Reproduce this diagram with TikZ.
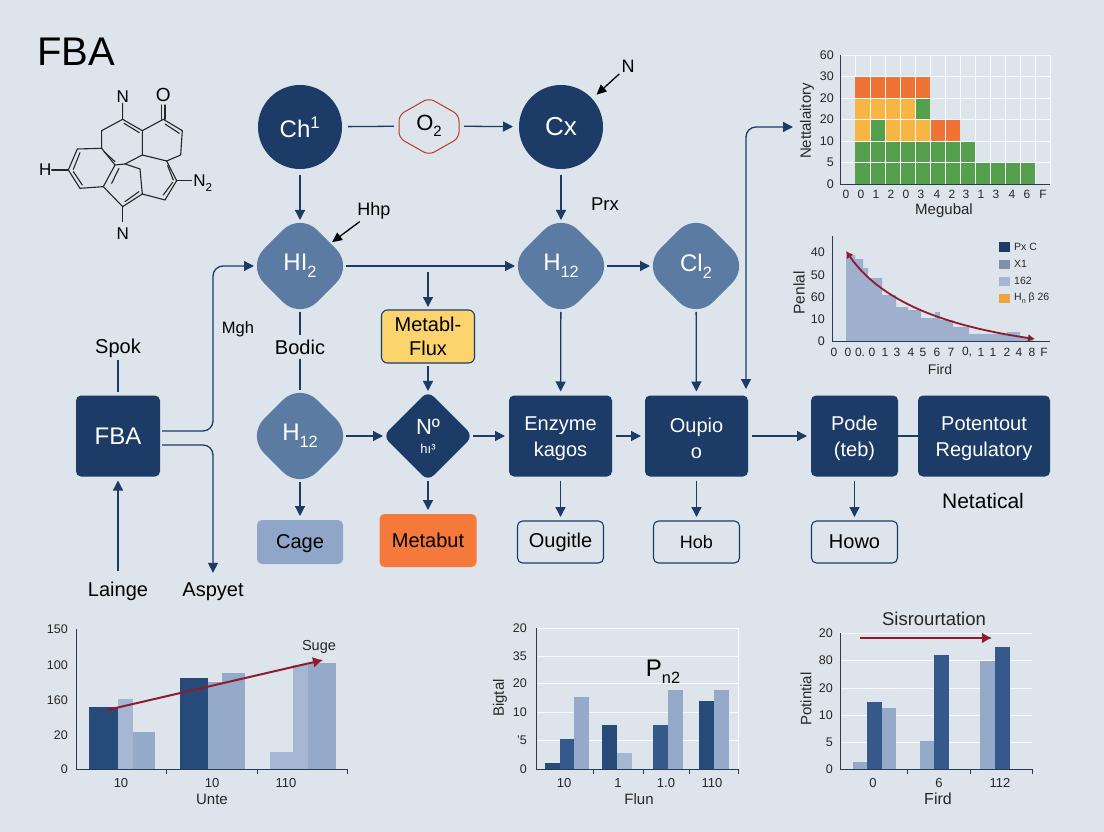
\documentclass[tikz,border=0pt]{standalone}
\usepackage{fontspec}
\setmainfont{Liberation Sans}
\usetikzlibrary{arrows.meta,shapes.geometric}
\definecolor{bgcol}{HTML}{DDE4EC}
\definecolor{navy}{HTML}{1C3B66}
\definecolor{steel}{HTML}{5B7BA3}
\definecolor{cagecol}{HTML}{8FA6C8}
\definecolor{fluxcol}{HTML}{FBD46E}
\definecolor{butcol}{HTML}{F4793B}
\definecolor{redline}{HTML}{8E1B2E}
\definecolor{hexred}{HTML}{C0392B}
\definecolor{barnavy}{HTML}{274B78}
\definecolor{barblue}{HTML}{34598A}
\definecolor{barmid}{HTML}{95A9C8}
\definecolor{barpale}{HTML}{A5B7D2}
\definecolor{hgreen}{HTML}{55A04C}
\definecolor{hyellow}{HTML}{F9B544}
\definecolor{horange}{HTML}{EE7334}
\definecolor{legorange}{HTML}{F0A23C}
\definecolor{axiscol}{HTML}{2A3A50}
\newcommand{\low}[1]{\raisebox{-0.28em}{\scalebox{0.68}{#1}}}
\newcommand{\fsz}[1]{\fontsize{#1}{#1}\selectfont}
\newcommand{\topstrut}{\rule{0pt}{20pt}}
\tikzset{
    flow/.style={draw=navy,line width=1.3pt,-{Triangle[length=10pt,width=10pt]}},
    link/.style={draw=navy,line width=1.3pt},
    callout/.style={draw=black,line width=1.3pt,-{Triangle[length=10pt,width=9pt]}},
    redarrow/.style={draw=redline,line width=2pt,-{Latex[length=10pt,width=11pt]}},
    roundnode/.style={circle,fill=navy,text=white,minimum size=84pt,inner sep=0pt,outer sep=6pt,font=\fsz{24}},
    softdiamond/.style={diamond,aspect=1,fill=steel,text=white,minimum width=102pt,minimum height=102pt,inner sep=0pt,outer sep=-5pt,rounded corners=24pt,font=\fsz{24}},
    darkbox/.style={rectangle,rounded corners=5pt,fill=navy,text=white,minimum height=81pt,inner sep=0pt,outer sep=4pt,align=center,font=\fontsize{20}{26}\selectfont},
    outbox/.style={rectangle,rounded corners=5pt,draw=navy,line width=1.1pt,minimum width=86pt,minimum height=42pt,inner sep=0pt,outer sep=4pt,font=\fsz{20}},
    plainlab/.style={inner sep=2pt,font=\fsz{20}},
    ticklab/.style={inner sep=0pt,font=\fsz{12.5},text=black!85},
    axislab/.style={inner sep=0pt,font=\fsz{15},text=black!85},
    axisline/.style={draw=axiscol,line width=0.9pt},
    gridline/.style={draw=white!80!bgcol,line width=0.8pt},
    bond/.style={draw=black!85,line width=1.1pt,line cap=round},
    mollab/.style={inner sep=0pt,font=\fsz{17}}
}
\begin{document}
\begin{tikzpicture}[x=1pt,y=-1pt]
    \useasboundingbox (0,0) rectangle (1104,832);
    \fill[bgcol] (0,0) rectangle (1104,832);
    \node[inner sep=0pt,font=\fsz{40}] (title) at (76,52) {FBA};

    \begin{scope}[shift={(20,20)},scale=0.3333]
        \draw[bond] (308,250) -- (308,298) -- (245,332) -- (245,385) -- (172,387) -- (145,450) -- (180,505) -- (250,500) -- (285,435) -- (245,385);
        \draw[bond] (308,298) -- (367,332) -- (430,298) -- (487,332) -- (482,405) -- (440,423) -- (367,405) -- (367,332);
        \draw[bond] (95,450) -- (145,450);
        \draw[bond] (425,255) -- (425,298) (435,255) -- (435,298);
        \draw[bond] (367,405) -- (315,432) -- (285,435);
        \draw[bond] (250,500) -- (308,560) -- (367,522) -- (360,447) -- (315,432);
        \draw[bond] (440,423) -- (470,482) -- (435,540) -- (367,522);
        \draw[bond] (470,482) -- (515,482);
        \draw[bond] (308,560) -- (308,605);
        \draw[bond] (312,310) -- (358,338) (435,312) -- (478,340);
        \draw[bond] (180,398) -- (160,448) (160,455) -- (187,495) (252,395) -- (285,425);
        \draw[bond] (275,490) -- (297,445) (315,545) -- (357,515) (443,437) -- (460,480) (458,487) -- (430,525);
        \node[mollab] (molna) at (308,230) {N};
        \node[mollab,font=\fsz{19}] (molo) at (430,226) {O};
        \node[mollab] (molh) at (76,450) {H};
        \node[mollab] (molnb) at (548,490) {N\low{2}};
        \node[mollab] (molnc) at (308,640) {N};
    \end{scope}

    \node[roundnode] (ch) at (300,127) {Ch\textsuperscript{1}};
    \node[roundnode,font=\fsz{26}] (cx) at (561,127) {Cx};
    \node[minimum width=60pt,minimum height=56pt,inner sep=0pt,outer sep=5pt,font=\fsz{22}] (otwo) at (429,126) {O\low{2}};
    \draw[hexred,line width=1pt,rounded corners=6pt] (429,98) -- (459,115) -- (459,138) -- (429,155) -- (399,138) -- (399,115) -- cycle;
    \node[softdiamond] (hone) at (300,266) {HI\low{2}};
    \node[softdiamond] (htwo) at (561,266) {H\low{12}};
    \node[softdiamond] (cltwo) at (696,266) {Cl\low{2}};
    \node[softdiamond] (hmid) at (300,436) {H\low{12}};
    \node[softdiamond,fill=navy,rounded corners=8pt,minimum width=90pt,minimum height=90pt,outer sep=0pt,align=center,font=\fontsize{22}{18}\selectfont] (nodia) at (428,436) {Nº\\[1pt]{\fsz{13}hı³}};
    \node[darkbox,minimum width=84pt,font=\fsz{24}] (fba) at (118,436) {FBA};
    \node[darkbox,minimum width=103pt] (enz) at (560.5,436) {\topstrut Enzyme\\kagos};
    \node[darkbox,minimum width=103pt] (oupio) at (696.5,436) {\topstrut Oupio\\o};
    \node[darkbox,minimum width=87pt] (pode) at (854.5,436) {\topstrut Pode\\(teb)};
    \node[darkbox,minimum width=132pt] (pot) at (984,436) {\topstrut Potentout\\Regulatory};
    \node[rectangle,rounded corners=6pt,draw=navy,line width=1.1pt,fill=fluxcol,minimum width=93pt,minimum height=53pt,inner sep=0pt,outer sep=3pt,align=center,font=\fontsize{20}{24}\selectfont] (flux) at (428,336.5) {Metabl-\\Flux};
    \node[rectangle,rounded corners=5pt,fill=cagecol,minimum width=86pt,minimum height=44pt,inner sep=0pt,outer sep=4pt,font=\fsz{20}] (cage) at (300,542) {\rule{0pt}{17pt}Cage};
    \node[rectangle,rounded corners=5pt,fill=butcol,minimum width=97pt,minimum height=53pt,inner sep=0pt,outer sep=4pt,font=\fsz{20}] (butbox) at (428,540.5) {Metabut};
    \node[outbox] (ougitle) at (560.5,542) {Ougitle};
    \node[outbox,font=\fsz{18}] (hob) at (696.5,542) {Hob};
    \node[outbox] (howo) at (854.5,542) {Howo};

    \node[plainlab] (spok) at (118,348) {Spok};
    \node[plainlab] (lainge) at (118,591) {Lainge};
    \node[plainlab] (aspyet) at (213,592) {Aspyet};
    \node[plainlab,font=\fsz{16.5}] (mgh) at (238,329) {Mgh};
    \node[plainlab,inner sep=4pt] (bodic) at (300,347) {Bodic};
    \node[plainlab,font=\fsz{18}] (hhp) at (374,211) {Hhp};
    \node[plainlab,font=\fsz{18.5}] (prx) at (605,204) {Prx};
    \node[plainlab,font=\fsz{18}] (nlab) at (628,66) {N};
    \node[plainlab,font=\fsz{21}] (netat) at (983,501) {Netatical};

    \coordinate (tap) at (428,272);
    \coordinate (fbaup) at (162,431);
    \coordinate (fbadown) at (162,445);
    \coordinate (oupiotop) at (746,389);
    \coordinate (chartin) at (793,127);

    \draw[link] (ch) -- (otwo);
    \draw[flow] (otwo) -- (cx);
    \draw[callout] (nlab) -- (cx);
    \draw[callout,shorten >=7pt] (hhp) -- (hone);
    \draw[flow] (ch) -- (hone);
    \draw[flow] (cx) -- (htwo);
    \draw[flow] (hone) -- (htwo);
    \draw[flow] (htwo) -- (cltwo);
    \draw[flow] (tap) -- (flux);
    \draw[flow] (flux) -- (nodia);
    \draw[link] (hone) -- (bodic);
    \draw[link] (bodic) -- (hmid);
    \draw[flow] (hmid) -- (nodia);
    \draw[flow] (nodia) -- (enz);
    \draw[flow] (enz) -- (oupio);
    \draw[flow] (oupio) -- (pode);
    \draw[link,shorten <=-4pt,shorten >=-4pt] (pode) -- (pot);
    \draw[flow] (htwo) -- (enz);
    \draw[flow] (cltwo) -- (oupio);
    \draw[flow] (hmid) -- (cage);
    \draw[flow] (nodia) -- (butbox);
    \draw[flow] (enz) -- (ougitle);
    \draw[flow] (oupio) -- (hob);
    \draw[flow] (pode) -- (howo);
    \draw[link] (spok) -- (fba);
    \draw[flow,shorten <=8pt] (lainge) -- (fba);
    \draw[flow,rounded corners=10pt] (fbaup) -- (213,431) -- (213,266) -- (hone);
    \draw[flow,rounded corners=10pt,shorten >=8pt] (fbadown) -- (213,445) -- (aspyet);
    \draw[flow,{Triangle[length=10pt,width=10pt]}-{Triangle[length=10pt,width=10pt]},rounded corners=10pt] (oupiotop) -- (746,127) -- (chartin);

    \foreach \y in {55,76.5,98.5,119.5,141,162.5}
        \draw[gridline] (840,\y) -- (1050,\y);
    \foreach \x in {855,870,...,1050}
        \draw[gridline] (\x,55) -- (\x,184);
    \foreach \a/\b/\t/\u/\c in {855/1035/162.5/184/hgreen,855/975/141/162.5/hgreen,855/870/119.5/141/hyellow,870/885/119.5/141/hgreen,885/930/119.5/141/hyellow,930/960/119.5/141/horange,855/915/98.5/119.5/hyellow,915/930/98.5/119.5/hgreen,855/930/76.5/98.5/horange}
        \fill[\c] (\a,\t) rectangle (\b,\u);
    \foreach \y in {98.5,119.5,141,162.5}
        \draw[gridline,line width=0.5pt] (855,\y) -- (1035,\y);
    \foreach \x in {870,885,...,1035}
        \draw[gridline,line width=0.5pt] (\x,76.5) -- (\x,184);
    \fill[bgcol] (930,76) rectangle (960,119);
    \fill[bgcol] (960,76) rectangle (1036,141);
    \fill[bgcol] (975,141) rectangle (1036,162);
    \foreach \y in {98.5,119.5,141}
        \draw[gridline] (930,\y) -- (1050,\y);
    \draw[gridline] (855,76.5) -- (1050,76.5) (975,162.5) -- (1050,162.5);
    \foreach \x in {945,960,...,1035}
        \draw[gridline] (\x,55) -- (\x,119);
    \foreach \x in {975,990,...,1035}
        \draw[gridline] (\x,119) -- (\x,162);
    \draw[axisline] (840,55) -- (840,184) -- (1050,184);
    \foreach \y/\t [count=\i] in {55/60,76.5/30,98.5/20,119.5/20,141/10,162.5/5,184/0}
        \node[ticklab,anchor=east] (topy\i) at (834,\y) {\t};
    \foreach \x/\t [count=\i] in {846/0,861/0,876/1,891/2,906/0,921/3,937/4,952/2,966/3,981/1,996/3,1012/4,1027/6,1043/F}
        \node[ticklab,font=\fsz{12}] (topx\i) at (\x,194) {\t};
    \node[axislab] (megubal) at (944,211) {Megubal};
    \node[axislab,rotate=90] (nettal) at (807,121) {Nettalaitory};

    \fill[barmid!92!white] (846,341) -- (846,255) -- (855,255) -- (855,259) -- (863,259) -- (863,268) -- (868,268) -- (868,278) -- (882,278) -- (882,295) -- (896,295) -- (896,307) -- (908,307) -- (908,310) -- (921,310) -- (921,318) -- (935,318) -- (935,312) -- (940,312) -- (940,320) -- (953,320) -- (953,327) -- (969,327) -- (969,334) -- (1007,334) -- (1007,332) -- (1020,332) -- (1020,338) -- (1033,338) -- (1033,341) -- cycle;
    \draw[axisline] (832,236) -- (832,341) -- (1050,341);
    \draw[draw=redline,line width=1.8pt,{Latex[length=7pt,width=8pt]}-{Latex[length=7pt,width=8pt]}] (846,251) .. controls (880,300) and (940,325) .. (1035,339);
    \foreach \y/\t [count=\i] in {252/40,275/50,297/60,319/10,341/0}
        \node[ticklab,anchor=east] (midy\i) at (825,\y) {\t};
    \foreach \x/\t [count=\i] in {834/0,848/0,860/{0.},872/0,885/1,897/3,911/4,923/5,937/6,951/7,967/{0,},981/1,993/1,1007/2,1019/4,1032/8,1044/F}
        \node[ticklab,font=\fsz{12}] (midx\i) at (\x,352) {\t};
    \node[axislab,font=\fsz{14}] (firdmid) at (940,369) {Fird};
    \node[axislab,font=\fsz{15.5},rotate=90] (penlal) at (799,293) {Penlal};
    \fill[navy] (999,242) rectangle (1010,252);
    \fill[barmid!85!black] (999,260) rectangle (1010,269);
    \fill[barpale] (999,277) rectangle (1010,286);
    \fill[legorange] (999,294) rectangle (1010,303);
    \node[ticklab,font=\fsz{10.5},anchor=west] (legone) at (1014,247) {Px C};
    \node[ticklab,font=\fsz{10.5},anchor=west] (legtwo) at (1014,264) {X1};
    \node[ticklab,font=\fsz{10.5},anchor=west] (legthree) at (1014,281) {162};
    \node[ticklab,font=\fsz{10.5},anchor=west] (legfour) at (1014,298) {H\low{n} β 26};

    \foreach \a/\b/\t/\c in {89/118/707/barnavy,118/133/699/barpale,133/155/732/barmid,180/208/678/barnavy,208/245/682/barmid,222/245/673/barmid,270/293/752/barpale,293/308/665/barpale,308/336/663/barmid}
        \fill[\c] (\a,769) rectangle (\b,\t);
    \draw[axisline] (76,629) -- (76,769) -- (347,769);
    \foreach \x in {166,257,347}
        \draw[axisline] (\x,769) -- (\x,774);
    \foreach \y/\t [count=\i] in {629/150,665/100,700/160,735/20,769/0}
        \node[ticklab,anchor=east] (lefty\i) at (68,\y) {\t};
    \foreach \x/\t [count=\i] in {121/10,212/10,286/110}
        \node[ticklab,font=\fsz{13}] (leftx\i) at (\x,783) {\t};
    \node[axislab] (unte) at (212,799) {Unte};
    \node[axislab,font=\fsz{14.5}] (suge) at (319,647) {Suge};
    \coordinate (sugefrom) at (107,710);
    \coordinate (sugeto) at (323,660);
    \draw[redarrow] (sugefrom) -- (sugeto);

    \foreach \y in {628,656,683,712,740}
        \draw[gridline] (536,\y) -- (738,\y);
    \draw[gridline] (738,628) -- (738,769);
    \foreach \a/\b/\t/\c in {545/560/763/barnavy,560/574/739/barblue,574/589/697/barmid,602/617/725/barnavy,617/632/753/barpale,653/668/725/barblue,668/683/690/barmid,699/714/701/barnavy,714/729/690/barmid}
        \fill[\c] (\a,769) rectangle (\b,\t);
    \draw[axisline] (536,628) -- (536,769) -- (738,769);
    \foreach \x in {593,643,689,738}
        \draw[axisline] (\x,769) -- (\x,774);
    \foreach \y/\t [count=\i] in {628/20,656/35,683/20,712/10,740/{'5},769/0}
        \node[ticklab,anchor=east] (ceny\i) at (527,\y) {\t};
    \foreach \x/\t [count=\i] in {564/10,618/1,666/{1.0},712/110}
        \node[ticklab,font=\fsz{13}] (cenx\i) at (\x,783) {\t};
    \node[axislab] (flun) at (639,799) {Flun};
    \node[axislab,rotate=90] (bigtal) at (500,698) {Bigtal};
    \node[inner sep=0pt,font=\fsz{24}] (pntwo) at (663,672) {P\low{n2}};

    \foreach \y in {633,660,688,715,742}
        \draw[gridline] (840,\y) -- (1032,\y);
    \foreach \a/\b/\t/\c in {853/867/762/barmid,867/882/702/barblue,882/896/708/barmid,920/934/741/barmid,934/949/655/barblue,980/995/661/barmid,995/1010/647/barblue}
        \fill[\c] (\a,769) rectangle (\b,\t);
    \draw[axisline] (840,633) -- (840,769) -- (1032,769);
    \foreach \x in {907,970,1032}
        \draw[axisline] (\x,769) -- (\x,774);
    \foreach \y/\t [count=\i] in {633/20,660/80,688/20,715/10,742/5,769/0}
        \node[ticklab,anchor=east] (righty\i) at (833,\y) {\t};
    \foreach \x/\t [count=\i] in {873/0,939/6,1000/112}
        \node[ticklab,font=\fsz{13}] (rightx\i) at (\x,783) {\t};
    \node[axislab,font=\fsz{16}] (firdlow) at (938,799) {Fird};
    \node[axislab,rotate=90] (potint) at (806,699) {Potintial};
    \node[axislab,font=\fsz{18.5}] (sisrour) at (934,619) {Sisrourtation};
    \coordinate (sisfrom) at (860,638);
    \coordinate (sisto) at (992,638);
    \draw[redarrow] (sisfrom) -- (sisto);
\end{tikzpicture}
\end{document}
